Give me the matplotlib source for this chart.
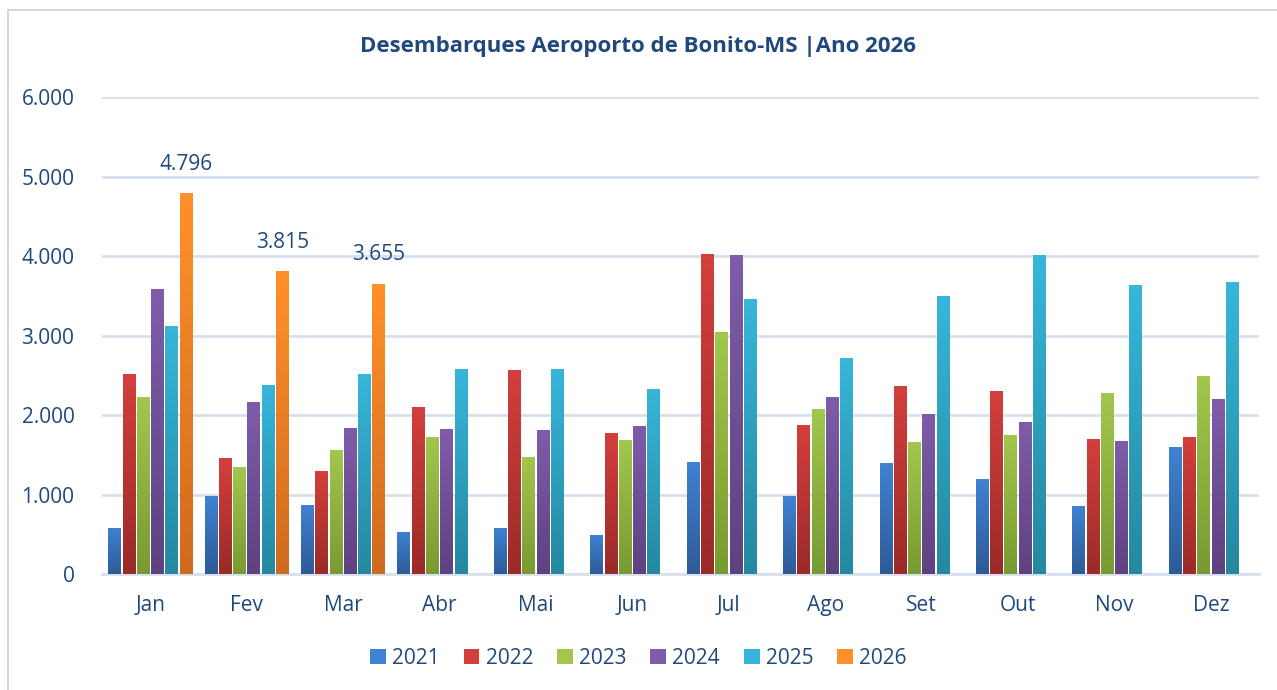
"""Desembarques Aeroporto de Bonito-MS, bars per month and year."""

import numpy as np
from matplotlib import pyplot as plt
from matplotlib.patches import Patch, Rectangle
from matplotlib.colors import LinearSegmentedColormap
import matplotlib.ticker as tck

months = ['Jan', 'Fev', 'Mar', 'Abr', 'Mai', 'Jun', 'Jul', 'Ago', 'Set', 'Out', 'Nov', 'Dez']
years = ['2021', '2022', '2023', '2024', '2025', '2026']

v2021 = [580, 981, 868, 528, 579, 490, 1409, 981, 1396, 1195, 855, 1597]
v2022 = [2516, 1459, 1296, 2100, 2566, 1774, 4025, 1874, 2365, 2302, 1698, 1723]
v2023 = [2226, 1346, 1560, 1723, 1472, 1686, 3044, 2075, 1660, 1748, 2277, 2491]
v2024 = [3585, 2164, 1836, 1824, 1811, 1862, 4013, 2226, 2013, 1912, 1673, 2201]
v2025 = [3120, 2377, 2516, 2579, 2579, 2327, 3459, 2717, 3497, 4013, 3635, 3673]
v2026 = [4796, 3815, 3655]

series = [v2021, v2022, v2023, v2024, v2025, v2026]

# (top colour, bottom colour) to mimic the Excel gradient fill
colors = [('#3f82d2', '#2d5b97'),
          ('#d33f3c', '#9a2b28'),
          ('#a2c74c', '#789a31'),
          ('#7f5ca9', '#5e4280'),
          ('#37b6da', '#2588a0'),
          ('#ff902b', '#d06b1e')]

text_col = '#1f497d'
grid_col = '#d6e0ef'

plt.rcParams['font.family'] = ['Open Sans', 'DejaVu Sans']

fig = plt.figure(figsize=(12.77, 6.9), dpi=100)
ax = fig.add_axes([0.080, 0.168, 0.906, 0.691])

# chart border
fig.patches.append(Rectangle((0.006, -0.01), 1.2, 0.995, transform=fig.transFigure,
                             fill=False, edgecolor='#d0d0d0', linewidth=1.2))

x = np.arange(len(months))
slot = 0.148
width = 0.134

for i, (vals, (top, bottom)) in enumerate(zip(series, colors)):
    xs = x[:len(vals)] + (i - 2.5) * slot
    bars = ax.bar(xs, vals, width=width, color=top, zorder=3, linewidth=0)
    cmap = LinearSegmentedColormap.from_list('g%d' % i, [bottom, top])
    grad = np.linspace(0, 1, 64).reshape(-1, 1)
    for b in bars:
        x0, w, h = b.get_x(), b.get_width(), b.get_height()
        im = ax.imshow(grad, cmap=cmap, aspect='auto', origin='lower',
                       extent=(x0, x0 + w, 0, h), zorder=4)
        im.set_clip_path(b)
    if years[i] == '2026':
        for xv, v in zip(xs, vals):
            ax.text(xv, v + 230, '{:,}'.format(v).replace(',', '.'),
                    ha='center', va='bottom', fontsize=15, color=text_col)

ax.set_xlim(-0.5, len(months) - 0.5)
ax.set_ylim(0, 6000)
ax.yaxis.set_major_locator(tck.MultipleLocator(1000))
ax.yaxis.set_major_formatter(tck.FuncFormatter(
    lambda val, pos: '{:,.0f}'.format(val).replace(',', '.')))
ax.set_xticks(x)
ax.set_xticklabels(months)
ax.tick_params(axis='both', length=0, labelsize=15, labelcolor=text_col)
ax.tick_params(axis='x', pad=15)
ax.tick_params(axis='y', pad=20)
ax.grid(axis='y', color=grid_col, linewidth=2, zorder=0)
for side in ['top', 'right', 'left']:
    ax.spines[side].set_visible(False)
ax.spines['bottom'].set_color(grid_col)
ax.spines['bottom'].set_linewidth(2)

handles = [Patch(facecolor=c[0], edgecolor=c[1], linewidth=0) for c in colors]
fig.legend(handles, years, loc='center', bbox_to_anchor=(0.5, 0.046), ncol=6,
           frameon=False, fontsize=15, labelcolor=text_col, handlelength=0.75,
           handleheight=0.75, handletextpad=0.3, columnspacing=1.15)

fig.text(0.5, 0.932, 'Desembarques Aeroporto de Bonito-MS |Ano 2026', ha='center',
         va='center', fontsize=16, fontweight='bold', color=text_col)

fig.savefig('out.png', dpi=100)
